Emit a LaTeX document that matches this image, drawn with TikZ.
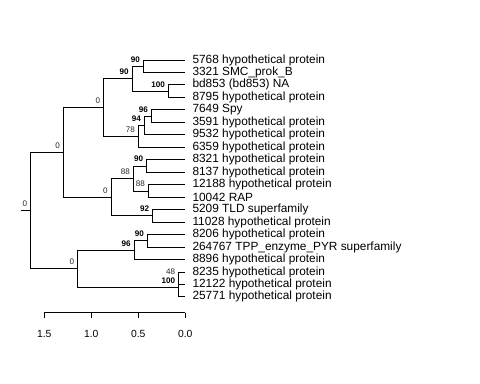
\documentclass[tikz,border=0pt]{standalone}
\usepackage{fontspec}
\setmainfont{Liberation Sans}
\usepackage{tikz}
\tikzset{
x=0.02cm, y=-0.02cm, % one unit is one pixel, y runs downwards
tip/.style={anchor=west, inner xsep=4pt, inner ysep=0pt, font=\fontsize{6.75}{8}\selectfont}, % leaf labels
boot/.style={anchor=south east, inner sep=0pt, shift={(-3,-3.5)}, text=black!85, font=\fontsize{4.6}{5}\selectfont}, % support values
bootbf/.style={boot, text=black, font=\fontsize{4.6}{5}\selectfont\bfseries}, % high support values
scalelab/.style={inner sep=0pt, font=\fontsize{5.9}{7}\selectfont}, % scale bar numbers
}
\begin{document}
\begin{tikzpicture}[line width=0.55pt]
\useasboundingbox (0,0) rectangle (480,384);
% leaves
\node[tip] (t5768)  at (185,60.0)  {5768 hypothetical protein};
\node[tip] (t3321)  at (185,72.5)  {3321 SMC\_prok\_B};
\node[tip] (tbd853) at (185,84.9)  {bd853 (bd853) NA};
\node[tip] (t8795)  at (185,97.4)  {8795 hypothetical protein};
\node[tip] (t7649)  at (185,109.9) {7649 Spy};
\node[tip] (t3591)  at (185,122.4) {3591 hypothetical protein};
\node[tip] (t9532)  at (185,134.8) {9532 hypothetical protein};
\node[tip] (t6359)  at (185,147.3) {6359 hypothetical protein};
\node[tip] (t8321)  at (185,159.8) {8321 hypothetical protein};
\node[tip] (t8137)  at (185,172.2) {8137 hypothetical protein};
\node[tip] (t12188) at (185,184.7) {12188 hypothetical protein};
\node[tip] (t10042) at (185,197.2) {10042 RAP};
\node[tip] (t5209)  at (185,209.6) {5209 TLD superfamily};
\node[tip] (t11028) at (185,222.1) {11028 hypothetical protein};
\node[tip] (t8206)  at (185,234.6) {8206 hypothetical protein};
\node[tip] (t264767) at (185,247.1) {264767 TPP\_enzyme\_PYR superfamily};
\node[tip] (t8896)  at (185,259.5) {8896 hypothetical protein};
\node[tip] (t8235)  at (185,272.0) {8235 hypothetical protein};
\node[tip] (t12122) at (185,284.5) {12122 hypothetical protein};
\node[tip] (t25771) at (185,296.9) {25771 hypothetical protein};
% inner nodes
\coordinate (na) at (143.3,66.2);
\coordinate (nb) at (168.3,91.2);
\coordinate (nc) at (132.0,78.7);
\coordinate (nd) at (151.3,116.1);
\coordinate (ne) at (144.3,125.5);
\coordinate (nf) at (138.3,136.4);
\coordinate (ng) at (103.5,107.5);
\coordinate (nh) at (146.7,166.0);
\coordinate (ni) at (148.3,191.0);
\coordinate (nj) at (133.3,178.5);
\coordinate (nk) at (152.7,215.9);
\coordinate (nl) at (111.0,197.2);
\coordinate (nm) at (63.3,152.3);
\coordinate (nn) at (147.3,240.8);
\coordinate (no) at (134.0,250.2);
\coordinate (np) at (178.5,278.2);
\coordinate (nq) at (178.5,287.6);
\coordinate (nr) at (77.7,268.9);
\coordinate (root) at (30.5,210.6);
\coordinate (stub) at (20.5,210.6);
% branches
\draw
    (na) |- (t5768.west)
    (na) |- (t3321.west)
    (nb) |- (tbd853.west)
    (nb) |- (t8795.west)
    (nc) |- (na)
    (nc) |- (nb)
    (nd) |- (t7649.west)
    (nd) |- (t3591.west)
    (ne) |- (nd)
    (ne) |- (t9532.west)
    (nf) |- (ne)
    (nf) |- (t6359.west)
    (ng) |- (nc)
    (ng) |- (nf)
    (nh) |- (t8321.west)
    (nh) |- (t8137.west)
    (ni) |- (t12188.west)
    (ni) |- (t10042.west)
    (nj) |- (nh)
    (nj) |- (ni)
    (nk) |- (t5209.west)
    (nk) |- (t11028.west)
    (nl) |- (nj)
    (nl) |- (nk)
    (nm) |- (ng)
    (nm) |- (nl)
    (nn) |- (t8206.west)
    (nn) |- (t264767.west)
    (no) |- (nn)
    (no) |- (t8896.west)
    (np) |- (t8235.west)
    (np) |- (t12122.west)
    (nq) |- (np)
    (nq) |- (t25771.west)
    (nr) |- (no)
    (nr) |- (nq)
    (root) |- (nm)
    (root) |- (nr)
    (stub) -- (root)
    ;
% support values
\node[bootbf] (ba) at (na) {90};
\node[bootbf] (bb) at (nb) {100};
\node[bootbf] (bc) at (nc) {90};
\node[bootbf] (bd) at (nd) {96};
\node[bootbf] (be) at (ne) {94};
\node[boot]   (bf) at (nf) {78};
\node[boot]   (bg) at (ng) {0};
\node[bootbf] (bh) at (nh) {90};
\node[boot]   (bi) at (ni) {88};
\node[boot]   (bj) at (nj) {88};
\node[bootbf] (bk) at (nk) {92};
\node[boot]   (bl) at (nl) {0};
\node[boot]   (bm) at (nm) {0};
\node[bootbf] (bn) at (nn) {90};
\node[bootbf] (bo) at (no) {96};
\node[boot]   (bp) at (np) {48};
\node[bootbf] (bq) at (nq) {100};
\node[boot]   (br) at (nr) {0};
\node[boot]   (broot) at (root) {0};
% scale bar
\draw (44.3,312.7) -- (185.3,312.7);
\foreach \v/\t in {0/0.0, 0.5/0.5, 1/1.0, 1.5/1.5} {
    \draw (185.3-94*\v,312.7) -- (185.3-94*\v,318.5);
    \node[scalelab] (s\t) at (185.3-94*\v,334) {\t};
}
\end{tikzpicture}
\end{document}
